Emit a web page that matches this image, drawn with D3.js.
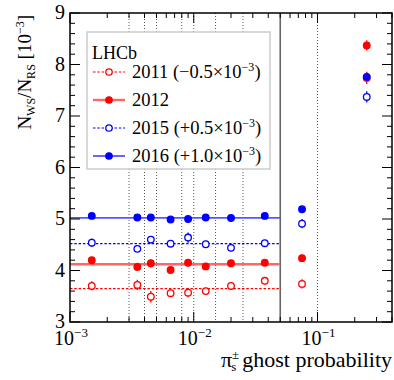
<!DOCTYPE html>
<html>
<head>
<meta charset="utf-8">
<script src="https://cdn.jsdelivr.net/npm/d3@7"></script>
<style>
  body { margin: 0; background: #fff; }
  text { font-family: "Liberation Serif", "DejaVu Serif", serif; }
</style>
</head>
<body>
<div class="graph"></div>
<script>
// bin centres (ghost probability) and bin edges
const xCenters = [0.0015, 0.0035, 0.0045, 0.0065, 0.009, 0.0125, 0.02, 0.0375, 0.075, 0.25];
const dottedEdges = [0.003, 0.004, 0.005, 0.008, 0.01, 0.015, 0.025, 0.1];
const cutEdge = 0.05;

// N_WS/N_RS [1e-3], with offsets already applied
const y2011 = [3.70, 3.72, 3.49, 3.56, 3.57, 3.60, 3.70, 3.80, 3.74, 7.74];
const e2011 = [0.09, 0.10, 0.11, 0.08, 0.09, 0.07, 0.07, 0.07, 0.09, 0.12];
const y2012 = [4.20, 4.07, 4.14, 4.01, 4.15, 4.08, 4.14, 4.15, 4.24, 8.37];
const e2012 = [0.04, 0.08, 0.08, 0.04, 0.07, 0.04, 0.04, 0.04, 0.04, 0.10];
const y2015 = [4.54, 4.42, 4.60, 4.52, 4.64, 4.51, 4.44, 4.53, 4.91, 7.37];
const e2015 = [0.08, 0.06, 0.07, 0.06, 0.10, 0.07, 0.07, 0.06, 0.09, 0.11];
const y2016 = [5.06, 5.03, 5.03, 4.99, 5.00, 5.03, 5.02, 5.06, 5.19, 7.76];
const e2016 = [0.03, 0.03, 0.03, 0.03, 0.03, 0.03, 0.03, 0.03, 0.03, 0.08];
// constant fits over the region below the cut
const fits = [3.65, 4.12, 4.52, 5.02];

const yTicks = [3, 4, 5, 6, 7, 8, 9];
const xTickExps = [-3, -2, -1];

const series = [
  { name: '2011 (\u22120.5\u00d710', sup: '\u22123', tail: ')', y: y2011, e: e2011, color: '#ff0000', open: true, dash: '2.5,1.8', lw: 1.2, fit: fits[0], fitColor: '#ff0000' },
  { name: '2012', sup: '', tail: '', y: y2012, e: e2012, color: '#ff0000', open: false, dash: null, lw: 2.4, fit: fits[1], fitColor: '#ff6666' },
  { name: '2015 (+0.5\u00d710', sup: '\u22123', tail: ')', y: y2015, e: e2015, color: '#0000ff', open: true, dash: '2.5,1.8', lw: 1.2, fit: fits[2], fitColor: '#0000ff' },
  { name: '2016 (+1.0\u00d710', sup: '\u22123', tail: ')', y: y2016, e: e2016, color: '#0000ff', open: false, dash: null, lw: 1.8, fit: fits[3], fitColor: '#5555ff' }
];

const W = 394, H = 380;
const margin = { top: 13, right: 2, bottom: 58, left: 70 };
const width = W - margin.left - margin.right;
const height = H - margin.top - margin.bottom;

const svg = d3.select('.graph').append('svg')
  .attr('width', W)
  .attr('height', H);

const g = svg.append('g')
  .attr('transform', `translate(${margin.left},${margin.top})`);

const x = d3.scaleLog()
  .domain([0.001, 0.4])
  .range([0, width]);

const y = d3.scaleLinear()
  .domain([3, 9])
  .range([height, 0]);

// vertical bin lines
g.selectAll('.edge')
  .data(dottedEdges)
  .enter().append('line')
  .attr('x1', d => x(d)).attr('x2', d => x(d))
  .attr('y1', 0).attr('y2', height)
  .attr('stroke', '#555')
  .attr('stroke-width', 1)
  .attr('stroke-dasharray', '1,2');

g.append('line')
  .attr('x1', x(cutEdge)).attr('x2', x(cutEdge))
  .attr('y1', 0).attr('y2', height)
  .attr('stroke', '#666')
  .attr('stroke-width', 1.6);

// fit lines
series.forEach(s => {
  g.append('line')
    .attr('x1', x(0.001)).attr('x2', x(cutEdge))
    .attr('y1', y(s.fit)).attr('y2', y(s.fit))
    .attr('stroke', s.fitColor)
    .attr('stroke-width', s.dash ? 1.2 : s.lw)
    .attr('stroke-dasharray', s.dash);
});

// legend (white box hides the grid behind it)
const lg = g.append('g').attr('transform', 'translate(17,19)');
lg.append('rect')
  .attr('width', 183).attr('height', 137)
  .attr('fill', '#fff')
  .attr('stroke', '#ccc')
  .attr('stroke-width', 1.5);
lg.append('text')
  .attr('x', 5).attr('y', 27)
  .attr('font-size', 18)
  .text('LHCb');
series.forEach((s, i) => {
  const cy = 40 + i * 28;
  lg.append('line')
    .attr('x1', 6).attr('x2', 38)
    .attr('y1', cy).attr('y2', cy)
    .attr('stroke', s.fitColor)
    .attr('stroke-width', s.dash ? 1.2 : s.lw)
    .attr('stroke-dasharray', s.dash);
  lg.append('circle')
    .attr('cx', 22).attr('cy', cy).attr('r', 3.2)
    .attr('fill', s.open ? '#fff' : s.color)
    .attr('stroke', s.color)
    .attr('stroke-width', 1.3);
  const t = lg.append('text')
    .attr('x', 45).attr('y', cy + 6)
    .attr('font-size', 18.5);
  t.append('tspan').text(s.name);
  if (s.sup) {
    t.append('tspan').attr('dy', -7).attr('font-size', 12).text(s.sup);
    t.append('tspan').attr('dy', 7).text(s.tail);
  }
});

// data points
series.forEach(s => {
  const pts = g.append('g');
  xCenters.forEach((xc, i) => {
    pts.append('line')
      .attr('x1', x(xc)).attr('x2', x(xc))
      .attr('y1', y(s.y[i] - s.e[i])).attr('y2', y(s.y[i] + s.e[i]))
      .attr('stroke', s.color)
      .attr('stroke-width', 1.3);
  });
  pts.selectAll('circle')
    .data(xCenters)
    .enter().append('circle')
    .attr('cx', d => x(d))
    .attr('cy', (d, i) => y(s.y[i]))
    .attr('r', 3.3)
    .attr('fill', s.open ? '#fff' : s.color)
    .attr('stroke', s.color)
    .attr('stroke-width', 1.3);
});

// ticks: y major + minor on both sides
const yMinor = d3.range(3, 9.001, 0.2);
const tk = g.append('g').attr('stroke', '#000').attr('stroke-width', 1);
yMinor.forEach(v => {
  const major = Math.abs(v - Math.round(v)) < 1e-6;
  const len = major ? 10 : 5;
  tk.append('line').attr('x1', 0).attr('x2', len).attr('y1', y(v)).attr('y2', y(v));
  tk.append('line').attr('x1', width).attr('x2', width - len).attr('y1', y(v)).attr('y2', y(v));
});
// x log ticks on top and bottom
const xAll = [];
xTickExps.forEach(p => {
  for (let m = 1; m <= 9; m++) {
    const v = m * Math.pow(10, p);
    if (v <= 0.4) xAll.push({ v: v, major: m === 1 });
  }
});
xAll.forEach(t => {
  const len = t.major ? 10 : 5;
  tk.append('line').attr('x1', x(t.v)).attr('x2', x(t.v)).attr('y1', height).attr('y2', height - len);
  tk.append('line').attr('x1', x(t.v)).attr('x2', x(t.v)).attr('y1', 0).attr('y2', len);
});

// frame
g.append('rect')
  .attr('width', width).attr('height', height)
  .attr('fill', 'none')
  .attr('stroke', '#000')
  .attr('stroke-width', 1.5);

// y tick labels
g.selectAll('.ylab')
  .data(yTicks)
  .enter().append('text')
  .attr('x', -5)
  .attr('y', d => y(d) + 6)
  .attr('text-anchor', 'end')
  .attr('font-size', 20)
  .text(d => d);

// x tick labels
xTickExps.forEach(p => {
  const t = g.append('text')
    .attr('x', x(Math.pow(10, p)) + 1)
    .attr('y', height + 23)
    .attr('text-anchor', 'middle')
    .attr('font-size', 20);
  t.append('tspan').text('10');
  t.append('tspan').attr('dy', -8).attr('font-size', 13).text('\u2212' + Math.abs(p));
});

// axis titles
const xt = svg.append('text')
  .attr('x', W - 2)
  .attr('y', 367)
  .attr('text-anchor', 'end')
  .attr('font-size', 22);
xt.append('tspan').text('\u03c0');
xt.append('tspan').attr('dy', -8).attr('font-size', 13).text('\u00b1');
xt.append('tspan').attr('dx', -8).attr('dy', 12).attr('font-size', 13).text('s');
xt.append('tspan').attr('dx', 6).attr('dy', -4).text('ghost probability');

const yt = svg.append('text')
  .attr('transform', 'translate(31,15) rotate(-90)')
  .attr('text-anchor', 'end')
  .attr('font-size', 19);
yt.append('tspan').text('N');
yt.append('tspan').attr('dy', 4).attr('font-size', 12).text('WS');
yt.append('tspan').attr('dy', -4).text('/N');
yt.append('tspan').attr('dy', 4).attr('font-size', 12).text('RS');
yt.append('tspan').attr('dy', -4).text(' [10');
yt.append('tspan').attr('dy', -7).attr('font-size', 12).text('\u22123');
yt.append('tspan').attr('dy', 7).text(']');
</script>
</body>
</html>
